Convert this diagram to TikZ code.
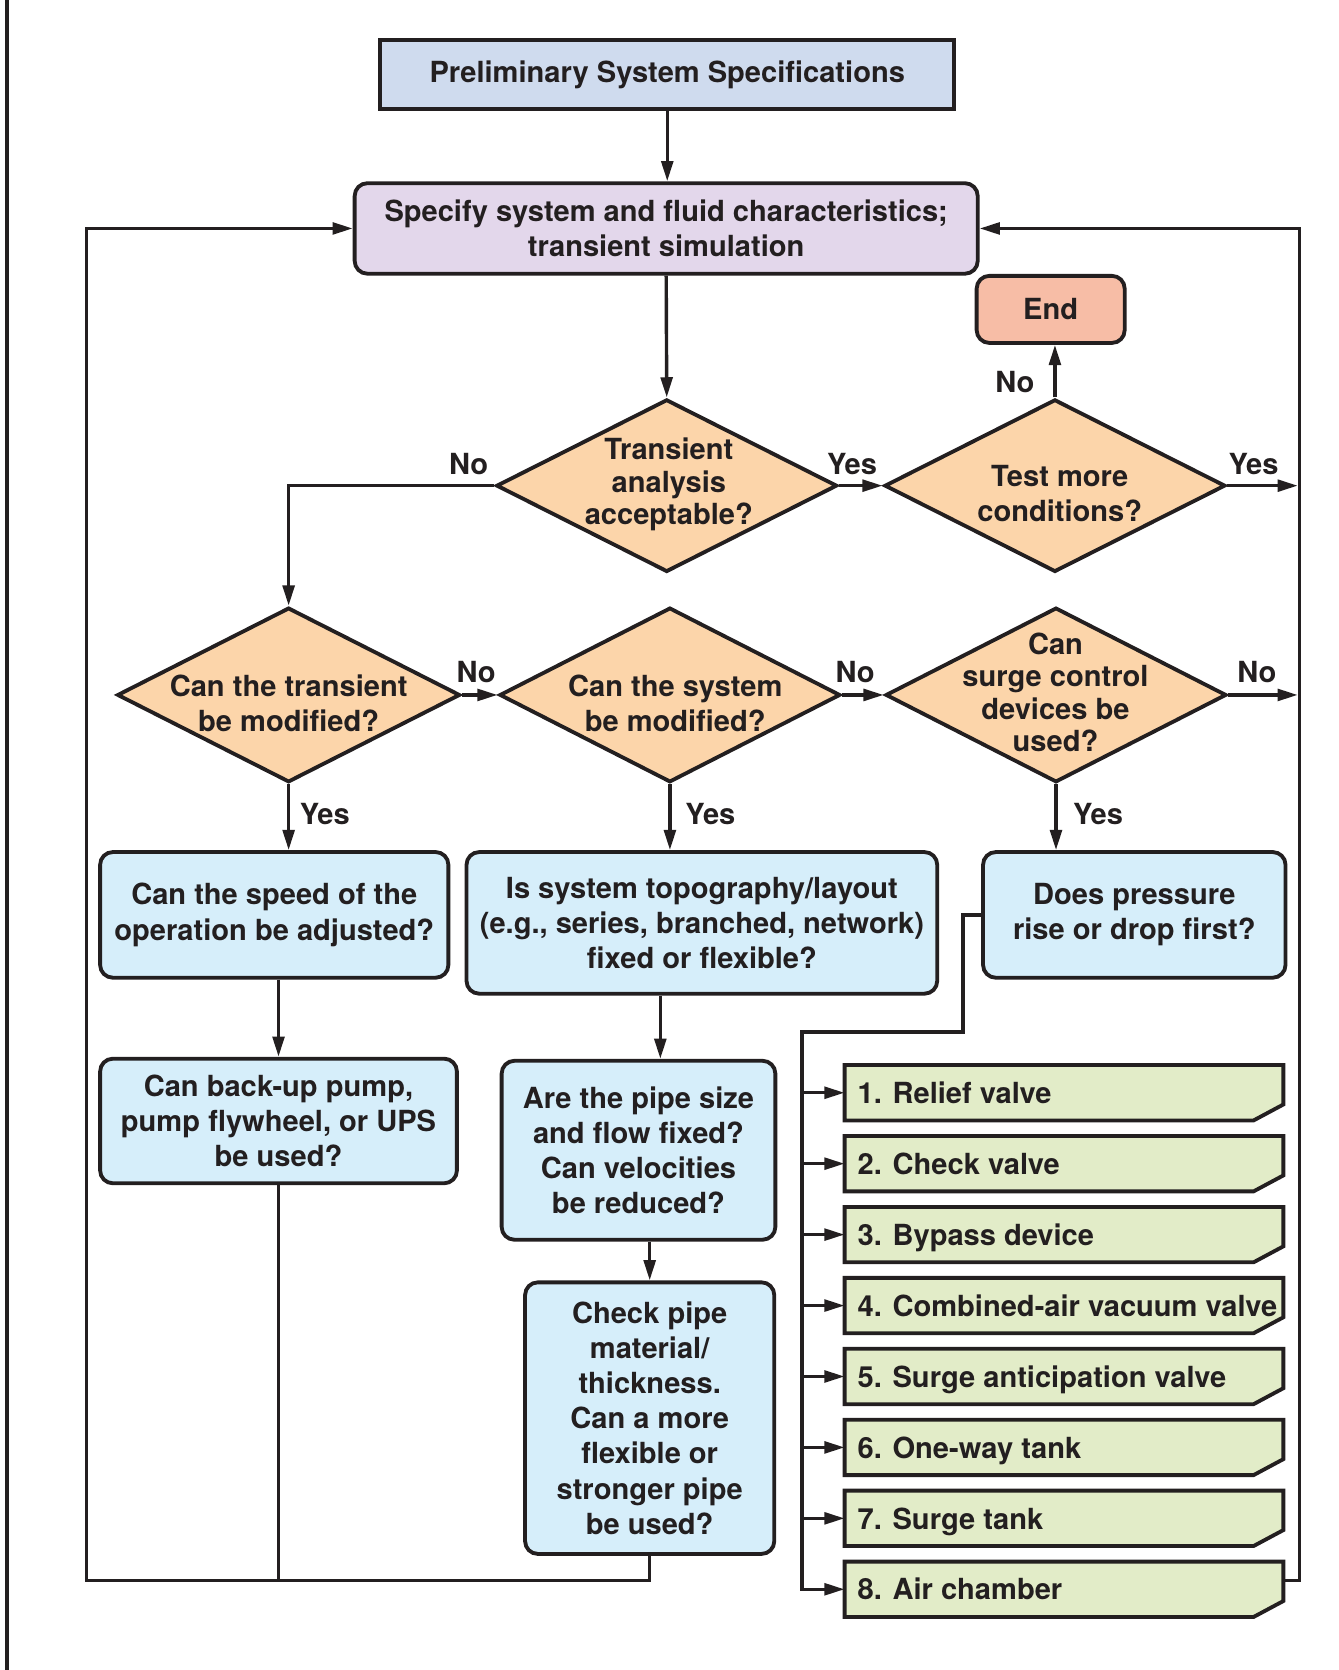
\documentclass[tikz,border=0pt]{standalone}
\usepackage{fontspec}
\setmainfont{TeX Gyre Heros}
\usetikzlibrary{shapes.geometric,arrows.meta,positioning,calc}
\definecolor{ink}{HTML}{231F20}
\definecolor{prefill}{HTML}{CFDBEE}
\definecolor{specfill}{HTML}{E3D7EB}
\definecolor{endfill}{HTML}{F7BDA6}
\definecolor{qfill}{HTML}{FCD5AA}
\definecolor{boxfill}{HTML}{D6EEFA}
\definecolor{itemfill}{HTML}{E2ECC8}
\begin{document}
\begin{tikzpicture}[x=1pt,y=1pt,
    font=\fontsize{27.3}{33}\selectfont\bfseries,
    every node/.style={text=ink},
    base/.style={draw=ink, line width=3.6pt},
    plain/.style={base, rectangle, inner sep=0pt, align=center},
    roundbox/.style={plain, rounded corners=12pt},
    bluebox/.style={roundbox, fill=boxfill},
    question/.style={base, diamond, fill=qfill, inner sep=0pt},
    qtext/.style={align=center},
    tight/.style={font=\fontsize{27.3}{30.5}\selectfont\bfseries},
    item/.style={anchor=west, inner xsep=12pt, inner ysep=0pt, text height=25pt, text depth=5pt},
    line/.style={draw=ink, line width=3.2pt},
    arr/.style={line, -{Triangle[length=19pt,width=11pt]}},
    lbl/.style={inner sep=0pt}]
  \useasboundingbox (0,0) rectangle (1257,-1568);
  \draw[line] (6.5,0) -- (6.5,-1568);

  % top of the chart
  \node[plain, fill=prefill, minimum width=539pt, minimum height=65pt] (pre) at (626.5,-70) {Preliminary System Specifications};
  \node[roundbox, fill=specfill, minimum width=585pt, minimum height=85pt] (spec) at (625.5,-214.5) {Specify system and fluid characteristics;\\transient simulation};
  \node[roundbox, fill=endfill, minimum width=139pt, minimum height=63pt] (fin) at (986.5,-290.5) {End};

  % decisions
  \node[question, minimum width=320pt, minimum height=162pt] (tao) at (626,-456) {};
  \node[qtext, tight] (taot) at (628,-455) {Transient\\analysis\\acceptable?};
  \node[question, minimum width=320pt, minimum height=162pt] (tmc) at (990.5,-456) {};
  \node[qtext] (tmct) at (995,-463) {Test more\\conditions?};
  \node[question, minimum width=322pt, minimum height=164pt] (ctm) at (271,-652.5) {};
  \node[qtext] (ctmt) at (271,-660) {Can the transient\\be modified?};
  \node[question, minimum width=320pt, minimum height=164pt] (csm) at (629,-652.5) {};
  \node[qtext] (csmt) at (634,-660) {Can the system\\be modified?};
  \node[question, minimum width=320pt, minimum height=164pt] (csd) at (991.5,-652.5) {};
  \node[qtext, tight] (csdt) at (991,-650) {Can\\surge control\\devices be\\used?};

  % questions in boxes
  \node[bluebox, minimum width=327pt, minimum height=118pt] (spd) at (257.5,-859) {Can the speed of the\\operation be adjusted?};
  \node[bluebox, minimum width=442pt, minimum height=133pt] (topo) at (659,-866.5) {Is system topography/layout\\(e.g., series, branched, network)\\fixed or flexible?};
  \node[bluebox, minimum width=284pt, minimum height=118pt] (dp) at (1065,-859) {Does pressure\\rise or drop first?};
  \node[bluebox, minimum width=335pt, minimum height=117pt] (bkp) at (261.5,-1052.5) {Can back-up pump,\\pump flywheel, or UPS\\be used?};
  \node[bluebox, minimum width=257pt, minimum height=168pt] (pipe) at (599.5,-1080) {Are the pipe size\\and flow fixed?\\Can velocities\\be reduced?};
  \node[bluebox, minimum width=234pt, minimum height=255pt] (chk) at (610,-1331.5) {Check pipe\\material/\\thickness.\\Can a more\\flexible or\\stronger pipe\\be used?};

  % surge control devices
  \foreach \n/\t in {1/Relief valve,2/Check valve,3/Bypass device,4/Combined-air vacuum valve,5/Surge anticipation valve,6/One-way tank,7/Surge tank,8/Air chamber}{
    \pgfmathsetmacro\yy{-1026-(\n-1)*66.6}
    \filldraw[base, fill=itemfill] (793,\yy+26) -- (1205,\yy+26) -- (1205,\yy-11) -- (1177,\yy-26) -- (793,\yy-26) -- cycle;
    \node[item] (v\n) at (793,\yy) {\n. \t};
    \coordinate (ve\n) at (1205,\yy);
  }

  \coordinate (bus) at (753,-969);
  \coordinate (rloop) at (1220,0);
  \coordinate (lowleft) at (81,-1484);

  % connectors
  \draw[arr] (pre.south) -- (pre.south |- spec.north);
  \draw[arr] (spec.south) -- (tao.north);
  \draw[arr] (tao.east) -- (tmc.west);
  \draw[arr] (tmc.north) -- (tmc.north |- fin.south);
  \draw[arr, shorten >=1.5pt] (tmc.east) -- (tmc.east -| rloop);
  \draw[arr] (tao.west) -| (ctm.north);
  \draw[arr] (ctm.east) -- (csm.west);
  \draw[arr] (csm.east) -- (csd.west);
  \draw[arr, shorten >=1.5pt] (csd.east) -- (csd.east -| rloop);
  \draw[arr] (ctm.south) -- (ctm.south |- spd.north);
  \draw[arr] (csm.south) -- (csm.south |- topo.north);
  \draw[arr] (csd.south) -- (csd.south |- dp.north);
  \draw[arr] (bkp.north |- spd.south) -- (bkp.north);
  \draw[arr] ([xshift=-39pt]topo.south) -- ([xshift=-39pt]topo.south |- pipe.north);
  \draw[arr] (chk.north |- pipe.south) -- (chk.north);
  \draw[line] (bkp.south) -- (bkp.south |- lowleft);
  \draw[arr] (chk.south) |- (lowleft) |- (spec.west);
  \draw[arr] (dp.west) -- ++(-17,0) |- (bus) |- (v8.west);
  \foreach \n in {1,...,7}
    \draw[arr] (bus |- v\n.west) -- (v\n.west);
  \draw[arr] ([yshift=8pt]ve8) -- ++(15,0) |- (spec.east);

  % labels
  \node[lbl] (n1) at (440,-436) {No};
  \node[lbl] (y1) at (800,-436) {Yes};
  \node[lbl] (y2) at (1177,-436) {Yes};
  \node[lbl] (n2) at (953,-359) {No};
  \node[lbl] (n3) at (447,-631) {No};
  \node[lbl] (n4) at (803,-631) {No};
  \node[lbl] (n5) at (1180,-631) {No};
  \node[lbl] (y3) at (305,-764) {Yes};
  \node[lbl] (y4) at (667,-764) {Yes};
  \node[lbl] (y5) at (1031,-764) {Yes};
\end{tikzpicture}
\end{document}
